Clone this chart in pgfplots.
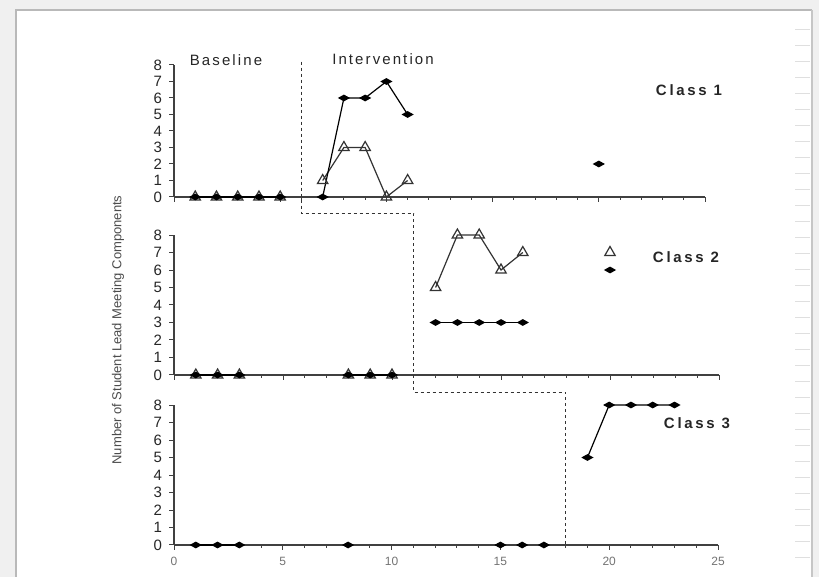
\documentclass[border=0pt]{standalone}
\usepackage{fontspec}
\setmainfont{Liberation Sans}
\newfontfamily\spaced[LetterSpace=14]{Liberation Sans}
\newfontfamily\spacedb[LetterSpace=18]{Liberation Sans}
\usepackage{pgfplots}
\pgfplotsset{compat=1.18}

\pgfplotsset{
 panel/.style={
  scale only axis, anchor=south west, clip=false,
  xmin=0, xmax=25, ymin=0, ymax=8,
  axis x line=bottom, axis y line=left,
  axis line style={-, black!75, line width=0.7pt},
  xtick={0,5,...,25}, minor x tick num=4, ytick={0,...,8},
  tick align=outside, major tick length=2.5pt, minor tick length=1.5pt,
  tick style={black!75, line width=0.5pt},
  yticklabel style={font=\fontsize{7.5}{8}\selectfont, text=black!85},
  /pgf/number format/assume math mode=true,
  xticklabels={},
 },
 dia/.style={black, line width=0.6pt, mark=diamond*, mark size=1.8pt,
   mark options={xscale=1.8, yscale=0.75, solid, fill=black}},
 tri/.style={black!80, line width=0.6pt, mark=triangle, mark size=3pt,
   mark options={solid, fill=white}},
}

\begin{document}
\begin{tikzpicture}[x=0.5pt,y=0.5pt]
% frame
\fill[gray!12] (0,0) rectangle (819,577);
\fill[white] (16,0) rectangle (812,567);
\draw[gray!55, line width=0.8pt] (16,0) -- (16,567) -- (812,567);
\draw[gray!45, line width=0.8pt] (812,0) -- (812,567);
\foreach \yy in {20,36,...,560} \draw[gray!25, line width=0.4pt] (795,\yy) -- (810,\yy);

% ---------------- Class 1 ----------------
\begin{axis}[panel, at={(87pt,190pt)}, width=265.5pt, height=66pt]
\addplot[tri] coordinates {(1,0) (2,0) (3,0) (4,0) (5,0)};
\addplot[dia] coordinates {(1,0) (2,0) (3,0) (4,0) (5,0)};
\addplot[tri] coordinates {(7,1) (8,3) (9,3) (10,0) (11,1)};
\addplot[dia] coordinates {(7,0) (8,6) (9,6) (10,7) (11,5)};
\addplot[dia, only marks] coordinates {(20,2)};
\coordinate (A1) at (axis cs:6,8.2);
\coordinate (A2) at (axis cs:6,-1);
\end{axis}

% ---------------- Class 2 ----------------
\begin{axis}[panel, at={(87pt,101pt)}, width=272.5pt, height=70pt]
\addplot[tri] coordinates {(1,0) (2,0) (3,0)};
\addplot[dia] coordinates {(1,0) (2,0) (3,0)};
\addplot[tri] coordinates {(8,0) (9,0) (10,0)};
\addplot[dia] coordinates {(8,0) (9,0) (10,0)};
\addplot[tri] coordinates {(12,5) (13,8) (14,8) (15,6) (16,7)};
\addplot[dia] coordinates {(12,3) (13,3) (14,3) (15,3) (16,3)};
\addplot[tri, only marks] coordinates {(20,7)};
\addplot[dia, only marks] coordinates {(20,6)};
\coordinate (B1) at (axis cs:11,0);
\coordinate (B2) at (axis cs:11,-1);
\end{axis}

% ---------------- Class 3 ----------------
\begin{axis}[panel, at={(87pt,16pt)}, width=272pt, height=70pt,
  xticklabels={0,5,10,15,20,25},
  xticklabel style={font=\fontsize{6}{7}\selectfont, text=black!55}]
\addplot[dia] coordinates {(1,0) (2,0) (3,0)};
\addplot[dia, only marks] coordinates {(8,0) (15,0) (16,0) (17,0)};
\addplot[dia] coordinates {(19,5) (20,8) (21,8) (22,8) (23,8)};
\coordinate (C1) at (axis cs:18,0);
\end{axis}

% phase change line
\draw[black!80, dash pattern=on 1.5pt off 1.5pt, line width=0.6pt]
  (A1) -- (A2) -- (A2 -| B1) -- (B2) -- (B2 -| C1) -- (C1);

% texts
\node[font=\fontsize{7.5}{9}\selectfont\spaced, text=black!85] at (226,517) {Baseline};
\node[font=\fontsize{7.5}{9}\selectfont\spaced, text=black!85] at (383,518) {Intervention};
\node[font=\fontsize{7.5}{9}\selectfont\spacedb\bfseries, text=black!85] at (689,487) {Class 1};
\node[font=\fontsize{7.5}{9}\selectfont\spacedb\bfseries, text=black!85] at (686,320) {Class 2};
\node[font=\fontsize{7.5}{9}\selectfont\spacedb\bfseries, text=black!85] at (697,154) {Class 3};
\node[rotate=90, font=\fontsize{6.5}{8}\selectfont, text=black!70] at (118,247)
  {Number of Student Lead Meeting Components};
\end{tikzpicture}
\end{document}
